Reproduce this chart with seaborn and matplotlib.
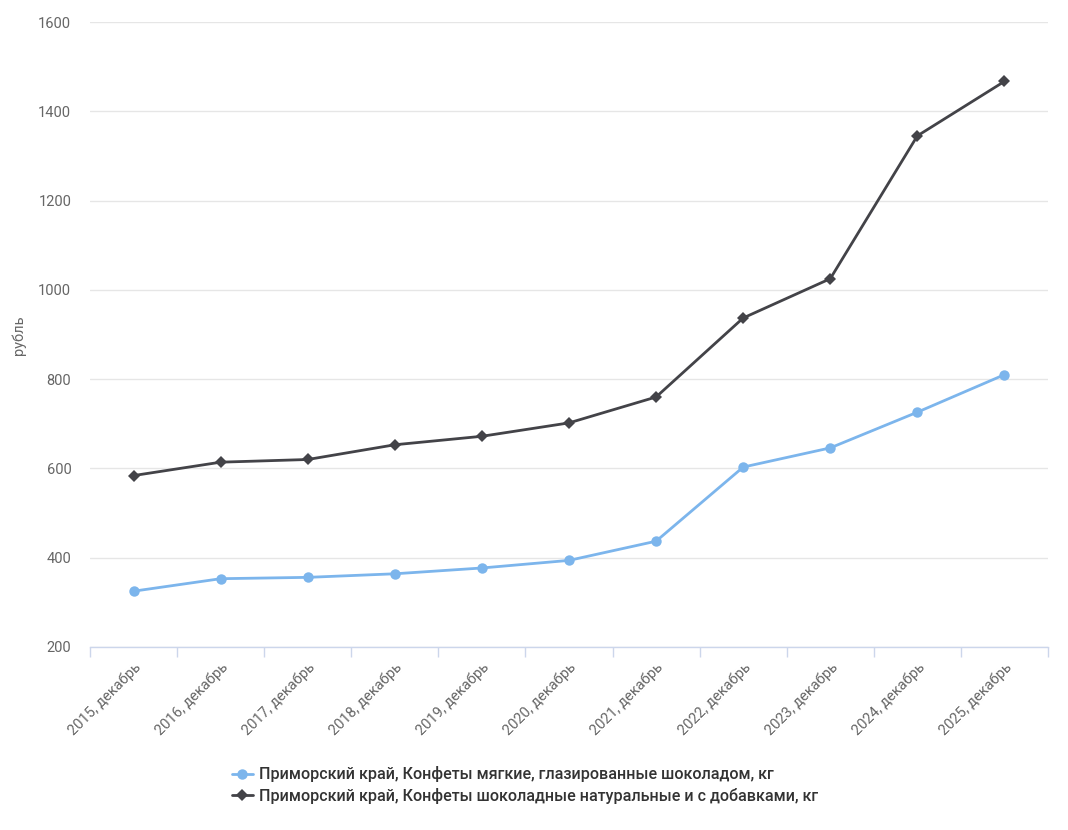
import matplotlib
matplotlib.use("Agg")
import matplotlib.pyplot as plt
import seaborn as sns
import pandas as pd
import numpy as np
from matplotlib.ticker import FixedLocator
from matplotlib.lines import Line2D

categories = ["2015, декабрь", "2016, декабрь", "2017, декабрь", "2018, декабрь",
              "2019, декабрь", "2020, декабрь", "2021, декабрь", "2022, декабрь",
              "2023, декабрь", "2024, декабрь", "2025, декабрь"]
soft_candies = [325, 353, 356, 364, 377, 394, 437, 603, 646, 726, 810]
choc_candies = [584, 614, 620, 653, 672, 702, 760, 937, 1025, 1345, 1467]
series_names = ["Приморский край, Конфеты мягкие, глазированные шоколадом, кг",
                "Приморский край, Конфеты шоколадные натуральные и с добавками, кг"]
yticks = [200, 400, 600, 800, 1000, 1200, 1400, 1600]

sns.set_theme(style="white")
plt.rcParams['font.family'] = ['Roboto', 'DejaVu Sans']

df = pd.DataFrame({
    "cat": list(range(len(categories))) * 2,
    "value": soft_candies + choc_candies,
    "series": [series_names[0]] * len(categories) + [series_names[1]] * len(categories),
})

fig = plt.figure(figsize=(10.68, 8.30), dpi=100)
ax = fig.add_axes([90/1068, 1 - 647/830, (1048-90)/1068, (647-22)/830])

palette = {series_names[0]: "#7cb5ec", series_names[1]: "#434348"}
markers = {series_names[0]: "o", series_names[1]: "D"}
sns.lineplot(data=df, x="cat", y="value", hue="series", style="series",
             palette=palette, markers=markers, dashes=False, linewidth=2,
             markersize=7.5, markeredgewidth=0, ax=ax, legend=False, zorder=3)
for line in ax.lines:
    if line.get_marker() == "D":
        line.set_markersize(6)

ax.set_xlim(-0.5, len(categories) - 0.5)
ax.set_ylim(200, 1600)
ax.set_yticks(yticks)
ax.set_yticklabels([str(v) for v in yticks], color="#666666", fontsize=10.5)
ax.yaxis.grid(True, color="#e6e6e6", linewidth=1)
ax.set_axisbelow(True)
ax.tick_params(axis="y", length=0, pad=13.5)

ax.set_xticks(range(len(categories)))
ax.set_xticklabels(categories, rotation=45, ha="right", rotation_mode="anchor",
                   color="#666666", fontsize=10.5)
ax.tick_params(axis="x", which="major", bottom=False, length=0, pad=9)
ax.xaxis.set_minor_locator(FixedLocator(np.arange(-0.5, len(categories), 1.0)))
ax.tick_params(axis="x", which="minor", bottom=True, length=7.5, width=1,
               color="#ccd6eb", direction="out")

for s in ["top", "right", "left"]:
    ax.spines[s].set_visible(False)
ax.spines["bottom"].set_color("#ccd6eb")
ax.spines["bottom"].set_linewidth(1)

ax.set_xlabel("")
ax.set_ylabel("рубль", color="#666666", fontsize=10.5)
ax.yaxis.set_label_coords((26 - 90) / 958, (647 - 335) / 625)

handles = [Line2D([0], [0], color="#7cb5ec", marker="o", markersize=7.5, markeredgewidth=0, linewidth=2),
           Line2D([0], [0], color="#434348", marker="D", markersize=6, markeredgewidth=0, linewidth=2)]
fig.legend(handles, series_names, loc="center", bbox_to_anchor=(525/1068, 1 - 785/830),
           frameon=False, handlelength=1.3, handletextpad=0.4, labelspacing=0.35,
           prop={"size": 11.6, "weight": "medium"}, labelcolor="#333333")

fig.savefig("out.png", dpi=100, facecolor="white")
